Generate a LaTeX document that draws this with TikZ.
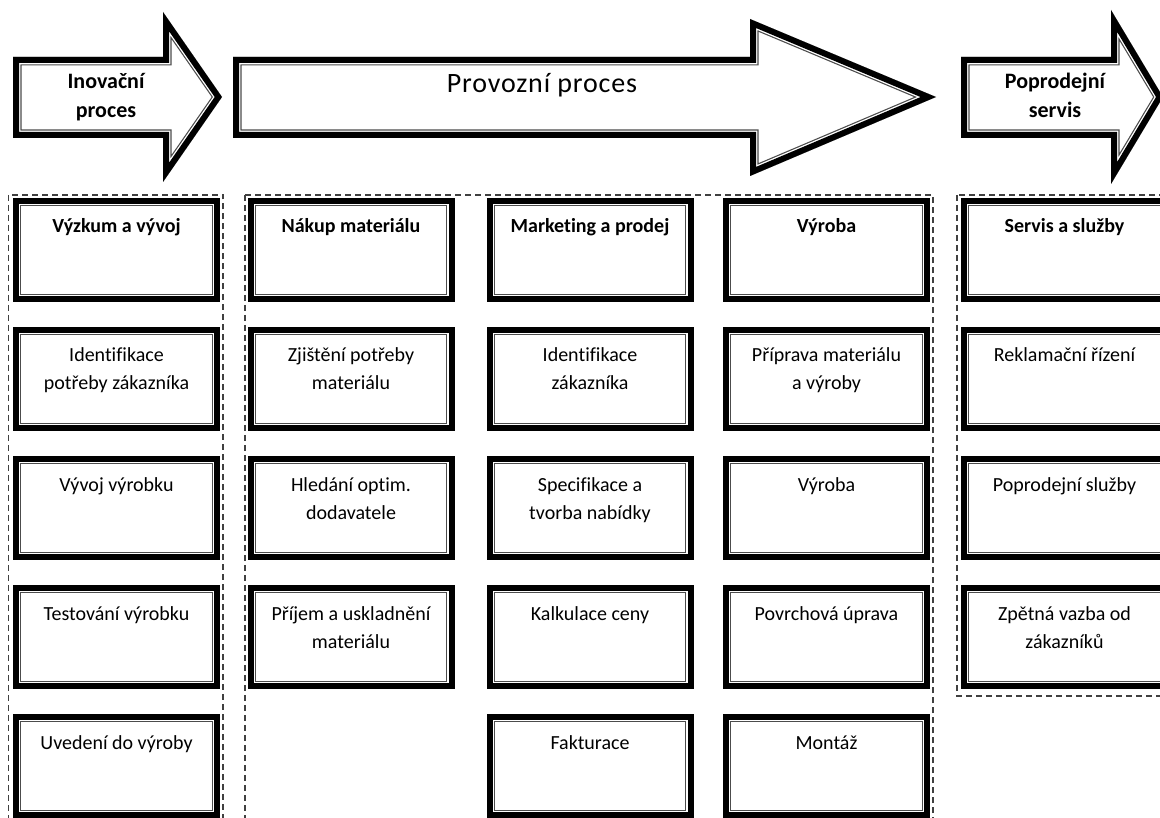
\documentclass[tikz,border=0pt]{standalone}
\usepackage{fontspec}
\setmainfont{Carlito}[Ligatures={NoCommon,NoContextual}]
\newcommand\bt[1]{\vbox to 98pt{\hsize=201pt\centering\vskip 12.4pt\strut#1\par\vfill}}
\newcommand\dblarrow[1]{%
  \fill[white] #1;
  \begin{scope}
    \clip #1;
    \draw[line width=17pt, black!70, miter limit=20] #1;
    \draw[line width=14.6pt, white, miter limit=20] #1;
    \draw[line width=12pt, black, miter limit=20] #1;
  \end{scope}}
\tikzset{
  pbox/.style={draw=black, line width=6pt, fill=white, inner sep=0pt, outer sep=0pt,
    font=\fontsize{20}{28}\selectfont,
    path picture={\draw[line width=1.1pt, black!70]
      ([shift={(4.9pt,-4.9pt)}]path picture bounding box.north west) rectangle
      ([shift={(-4.9pt,4.9pt)}]path picture bounding box.south east);}},
  dashbox/.style={draw=black!75, line width=1.4pt, dash pattern=on 6pt off 4pt},
  arrowtext/.style={inner sep=0pt, align=center, font=\fontsize{22}{29}\selectfont\bfseries},
}
\begin{document}
\begin{tikzpicture}[x=1pt,y=-1pt]
\useasboundingbox (0,0) rectangle (1160,818);
\clip (0,0) rectangle (1160,818);
\fill[white] (0,0) rectangle (1160,818);

% arrows
\dblarrow{(13,57) -- (163,57) -- (163,12) -- (222,97) -- (163,182) -- (163,138) -- (13,138) -- cycle}
\dblarrow{(233,57) -- (750,57) -- (750,19) -- (936,97) -- (750,176) -- (750,138) -- (233,138) -- cycle}
\dblarrow{(961,57) -- (1111,57) -- (1111,10) -- (1163,97) -- (1111,184) -- (1111,138) -- (961,138) -- cycle}

\node[arrowtext, anchor=north] (inov) at (106,67.7) {\strut Inovační\\proces};
\node[inner sep=0pt, anchor=base, font=\fontsize{28}{34}\selectfont\addfontfeature{LetterSpace=3}] (prov) at (542,93) {Provozní proces};
\node[arrowtext, anchor=north] (popr) at (1055,67.7) {\strut Poprodejní\\servis};

% dashed groups
\draw[dashbox] (8.5,195) rectangle (223,830);
\draw[dashbox] (245,195) rectangle (933,830);
\draw[dashbox] (957,195) rectangle (1175,696);

% column 1
\node[pbox] (a1) at (116.5,250) {\bt{\bfseries Výzkum a vývoj}};
\node[pbox] (a2) at (116.5,379) {\bt{Identifikace\\potřeby zákazníka}};
\node[pbox] (a3) at (116.5,508) {\bt{Vývoj výrobku}};
\node[pbox] (a4) at (116.5,637) {\bt{Testování výrobku}};
\node[pbox] (a5) at (116.5,766) {\bt{Uvedení do výroby}};
% column 2
\node[pbox] (b1) at (351,250) {\bt{\bfseries Nákup materiálu}};
\node[pbox] (b2) at (351,379) {\bt{Zjištění potřeby\\materiálu}};
\node[pbox] (b3) at (351,508) {\bt{Hledání optim.\\dodavatele}};
\node[pbox] (b4) at (351,637) {\bt{Příjem a uskladnění\\materiálu}};
% column 3
\node[pbox] (c1) at (590,250) {\bt{\bfseries Marketing a prodej}};
\node[pbox] (c2) at (590,379) {\bt{Identifikace\\zákazníka}};
\node[pbox] (c3) at (590,508) {\bt{Specifikace a\\tvorba nabídky}};
\node[pbox] (c4) at (590,637) {\bt{Kalkulace ceny}};
\node[pbox] (c5) at (590,766) {\bt{Fakturace}};
% column 4
\node[pbox] (d1) at (826.5,250) {\bt{\bfseries Výroba}};
\node[pbox] (d2) at (826.5,379) {\bt{Příprava materiálu\\a výroby}};
\node[pbox] (d3) at (826.5,508) {\bt{Výroba}};
\node[pbox] (d4) at (826.5,637) {\bt{Povrchová úprava}};
\node[pbox] (d5) at (826.5,766) {\bt{Montáž}};
% column 5
\node[pbox] (e1) at (1064.5,250) {\bt{\bfseries Servis a služby}};
\node[pbox] (e2) at (1064.5,379) {\bt{Reklamační řízení}};
\node[pbox] (e3) at (1064.5,508) {\bt{Poprodejní služby}};
\node[pbox] (e4) at (1064.5,637) {\bt{Zpětná vazba od\\zákazníků}};
\end{tikzpicture}
\end{document}
